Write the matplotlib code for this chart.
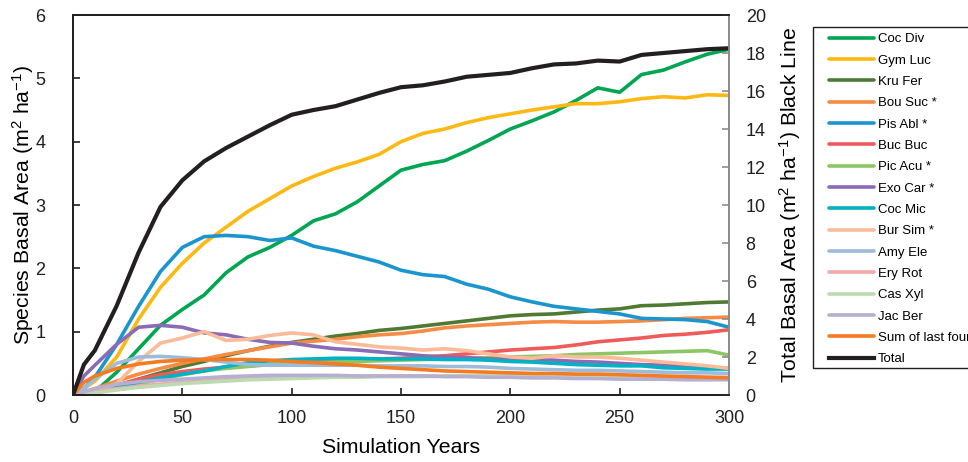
import matplotlib
matplotlib.use("agg")
import matplotlib.pyplot as plt
from matplotlib.patches import Rectangle

plt.rcParams["font.family"] = ["Liberation Sans", "DejaVu Sans"]
plt.rcParams["mathtext.fontset"] = "custom"
plt.rcParams["mathtext.rm"] = "Liberation Sans"
plt.rcParams["mathtext.it"] = "Liberation Sans:italic"

years = [0, 5, 10, 20, 30, 40, 50, 60, 70, 80, 90, 100, 110, 120, 130, 140, 150,
         160, 170, 180, 190, 200, 210, 220, 230, 240, 250, 260, 270, 280, 290, 300]

coc_div = [0, 0.02, 0.05, 0.36, 0.73, 1.1, 1.35, 1.58, 1.93, 2.18, 2.33, 2.52, 2.75, 2.86, 3.05, 3.3,
           3.55, 3.64, 3.7, 3.85, 4.02, 4.2, 4.33, 4.47, 4.65, 4.85, 4.78, 5.06, 5.13, 5.26, 5.38, 5.46]
gym_luc = [0, 0.1, 0.22, 0.6, 1.2, 1.7, 2.08, 2.4, 2.65, 2.9, 3.1, 3.3, 3.45, 3.58, 3.68, 3.8,
           4.0, 4.13, 4.2, 4.3, 4.38, 4.44, 4.5, 4.55, 4.6, 4.6, 4.63, 4.68, 4.71, 4.69, 4.74, 4.73]
kru_fer = [0, 0.02, 0.05, 0.15, 0.25, 0.35, 0.45, 0.53, 0.62, 0.7, 0.77, 0.83, 0.88, 0.93, 0.97, 1.02,
           1.05, 1.09, 1.13, 1.17, 1.21, 1.25, 1.27, 1.28, 1.31, 1.34, 1.36, 1.41, 1.42, 1.44, 1.46, 1.47]
bou_suc = [0, 0.05, 0.1, 0.22, 0.33, 0.42, 0.5, 0.57, 0.64, 0.7, 0.76, 0.82, 0.85, 0.88, 0.92, 0.95,
           0.97, 1.01, 1.06, 1.09, 1.11, 1.13, 1.15, 1.16, 1.15, 1.15, 1.16, 1.17, 1.19, 1.21, 1.22, 1.23]
pis_abl = [0, 0.1, 0.28, 0.8, 1.4, 1.95, 2.33, 2.5, 2.52, 2.5, 2.44, 2.48, 2.35, 2.28, 2.19, 2.1,
           1.97, 1.9, 1.87, 1.75, 1.67, 1.55, 1.47, 1.4, 1.36, 1.32, 1.28, 1.21, 1.2, 1.19, 1.16, 1.07]
buc_buc = [0, 0.02, 0.05, 0.15, 0.25, 0.32, 0.37, 0.41, 0.44, 0.46, 0.48, 0.5, 0.52, 0.54, 0.56, 0.57,
           0.58, 0.6, 0.62, 0.65, 0.68, 0.71, 0.73, 0.75, 0.79, 0.84, 0.87, 0.9, 0.94, 0.96, 0.99, 1.03]
pic_acu = [0, 0.02, 0.04, 0.1, 0.17, 0.25, 0.32, 0.38, 0.42, 0.45, 0.48, 0.5, 0.51, 0.52, 0.53, 0.54,
           0.55, 0.56, 0.57, 0.58, 0.59, 0.6, 0.61, 0.62, 0.64, 0.65, 0.66, 0.67, 0.68, 0.69, 0.7, 0.63]
exo_car = [0, 0.3, 0.47, 0.8, 1.07, 1.1, 1.07, 0.98, 0.95, 0.88, 0.83, 0.82, 0.77, 0.73, 0.71, 0.68,
           0.65, 0.62, 0.6, 0.59, 0.57, 0.56, 0.56, 0.55, 0.53, 0.52, 0.5, 0.48, 0.47, 0.45, 0.44, 0.42]
coc_mic = [0, 0.05, 0.08, 0.13, 0.2, 0.27, 0.33, 0.38, 0.45, 0.51, 0.54, 0.56, 0.57, 0.58, 0.58, 0.57,
           0.57, 0.57, 0.56, 0.56, 0.55, 0.53, 0.52, 0.5, 0.48, 0.47, 0.46, 0.46, 0.43, 0.42, 0.41, 0.41]
bur_sim = [0, 0.02, 0.05, 0.18, 0.53, 0.82, 0.9, 1.0, 0.86, 0.88, 0.94, 0.98, 0.95, 0.84, 0.8, 0.76,
           0.74, 0.71, 0.73, 0.7, 0.65, 0.6, 0.58, 0.62, 0.6, 0.6, 0.58, 0.55, 0.52, 0.49, 0.46, 0.42]
amy_ele = [0, 0.1, 0.25, 0.5, 0.6, 0.61, 0.59, 0.56, 0.52, 0.48, 0.47, 0.47, 0.47, 0.47, 0.47, 0.46,
           0.46, 0.46, 0.45, 0.45, 0.44, 0.42, 0.41, 0.4, 0.39, 0.39, 0.38, 0.37, 0.36, 0.35, 0.35, 0.34]
ery_rot = [0, 0.02, 0.05, 0.1, 0.14, 0.17, 0.2, 0.22, 0.24, 0.26, 0.27, 0.28, 0.29, 0.29, 0.3, 0.3,
           0.3, 0.3, 0.3, 0.3, 0.3, 0.3, 0.3, 0.29, 0.29, 0.29, 0.29, 0.29, 0.28, 0.28, 0.28, 0.28]
cas_xyl = [0, 0.01, 0.03, 0.08, 0.12, 0.15, 0.18, 0.2, 0.22, 0.24, 0.25, 0.26, 0.27, 0.28, 0.28, 0.29,
           0.29, 0.29, 0.3, 0.3, 0.3, 0.3, 0.3, 0.29, 0.29, 0.28, 0.28, 0.28, 0.28, 0.27, 0.27, 0.27]
jac_ber = [0, 0.05, 0.1, 0.17, 0.21, 0.23, 0.25, 0.27, 0.29, 0.3, 0.31, 0.31, 0.31, 0.31, 0.3, 0.3,
           0.3, 0.3, 0.29, 0.29, 0.28, 0.28, 0.27, 0.27, 0.26, 0.26, 0.25, 0.25, 0.25, 0.24, 0.24, 0.24]
sum_last_four = [0, 0.2, 0.3, 0.42, 0.49, 0.53, 0.55, 0.56, 0.56, 0.56, 0.55, 0.53, 0.51, 0.49, 0.47, 0.44,
                 0.42, 0.4, 0.38, 0.37, 0.36, 0.35, 0.34, 0.34, 0.33, 0.33, 0.32, 0.31, 0.3, 0.29, 0.28, 0.27]
total = [0, 1.6, 2.35, 4.7, 7.5, 9.9, 11.3, 12.3, 13.0, 13.6, 14.2, 14.75, 15.0, 15.2, 15.55, 15.9,
         16.2, 16.3, 16.5, 16.75, 16.85, 16.95, 17.2, 17.4, 17.45, 17.6, 17.55, 17.9, 18.0, 18.1, 18.2, 18.25]

species = [
    ("Coc Div", coc_div, "#00a651"),
    ("Gym Luc", gym_luc, "#fdb913"),
    ("Kru Fer", kru_fer, "#4e7a33"),
    ("Bou Suc *", bou_suc, "#f58b45"),
    ("Pis Abl *", pis_abl, "#1b95ce"),
    ("Buc Buc", buc_buc, "#ee5b5b"),
    ("Pic Acu *", pic_acu, "#8dc665"),
    ("Exo Car *", exo_car, "#8a6bb5"),
    ("Coc Mic", coc_mic, "#00b2c3"),
    ("Bur Sim *", bur_sim, "#f9bb98"),
    ("Amy Ele", amy_ele, "#9dbcdb"),
    ("Ery Rot", ery_rot, "#f2a9a9"),
    ("Cas Xyl", cas_xyl, "#bcdbb0"),
    ("Jac Ber", jac_ber, "#b7afd2"),
    ("Sum of last four", sum_last_four, "#f47b20"),
]

W, H = 968, 462
fig = plt.figure(figsize=(W / 100, H / 100), dpi=100)
ax = fig.add_axes([73 / W, 1 - 395 / H, 656 / W, 380 / H])
ax2 = ax.twinx()

handles = []
for name, vals, col in species:
    h, = ax.plot(years, vals, color=col, lw=2.6, label=name, solid_capstyle="round")
    handles.append(h)
ht, = ax2.plot(years, total, color="#231f20", lw=3.0, label="Total")
handles.append(ht)

ax.set_xlim(0, 300)
ax.set_ylim(0, 6)
ax2.set_ylim(0, 20)
ax.set_xticks(range(0, 301, 50))
ax.set_yticks(range(0, 7))
ax2.set_yticks(range(0, 21, 2))

dark = "#231f20"
grey = "#8c8c8c"
ax.tick_params(direction="in", length=5, width=1.2, labelsize=13, color=dark, labelcolor=dark)
ax.tick_params(axis="x", pad=10.5)
ax.tick_params(axis="y", pad=20)
ax2.tick_params(direction="in", length=5, width=1.2, labelsize=13, color=grey,
                labelcolor=dark, pad=12)
for a in (ax, ax2):
    for side, s in a.spines.items():
        s.set_linewidth(1.3)
        s.set_color(grey if side == "right" else dark)

ax.set_xlabel("Simulation Years", fontsize=15.3, labelpad=8)
ax.set_ylabel(r"Species Basal Area (m$^2$ ha$^{-1}$)", fontsize=15.3, labelpad=-1)
ax2.set_ylabel(r"Total Basal Area (m$^2$ ha$^{-1}$) Black Line", fontsize=15.3, labelpad=8)

# legend box drawn by hand so it runs off the right edge like the original
fig.patches.append(Rectangle((813 / W, 1 - 368 / H), 200 / W, 341 / H, transform=fig.transFigure,
                             fill=False, edgecolor=dark, lw=1.0))
leg = fig.legend(handles=handles, loc="upper left", bbox_to_anchor=(829 / W, 1 - 33 / H),
                 frameon=False, fontsize=9.5, handlelength=3.4, handletextpad=0.28,
                 labelspacing=0.69, borderpad=0, borderaxespad=0)

fig.savefig("out.png", dpi=100)
